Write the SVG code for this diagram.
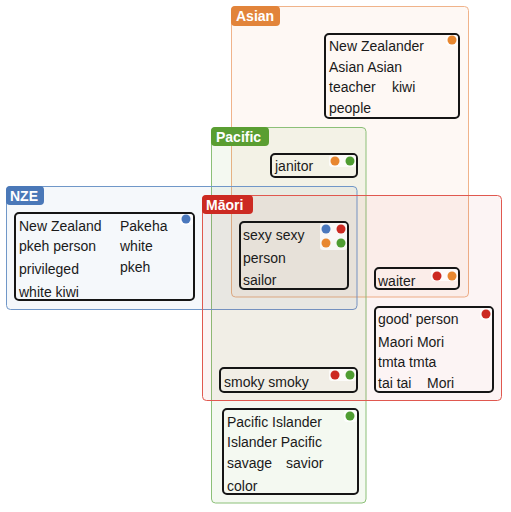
<svg xmlns="http://www.w3.org/2000/svg" width="511" height="512" viewBox="0 0 511 512">
<style>
.grp{stroke-width:1}
.lbl{font-family:"Liberation Sans",Arial,sans-serif;font-size:14px;font-weight:bold;fill:#fff}
.node{fill:none;stroke:#151515;stroke-width:2}
.t{font-family:"Liberation Sans",Arial,sans-serif;font-size:14px;fill:#1a1a1a}
.patch{fill:#fff;fill-opacity:0.75}
.cb{fill:#4a78bd}.cr{fill:#cc2a22}.co{fill:#e8872f}.cg{fill:#4f9d32}
</style>
<rect width="511" height="512" fill="#fff"/>
<g id="group-asian">
<rect class="grp" x="231.5" y="6.5" width="237" height="290.5" rx="4" fill="#e8873a" fill-opacity="0.055" stroke="#f0b38a"/>
</g>
<g id="group-pacific">
<rect class="grp" x="211.5" y="127.5" width="154.5" height="375.5" rx="4" fill="#5a9e32" fill-opacity="0.065" stroke="#8cc078"/>
</g>
<g id="group-nze">
<rect class="grp" x="6.5" y="186.5" width="350.5" height="123" rx="4" fill="#4a78b8" fill-opacity="0.055" stroke="#7097c8"/>
</g>
<g id="group-maori">
<rect class="grp" x="202.5" y="195.5" width="299" height="205" rx="4" fill="#cc2a22" fill-opacity="0.05" stroke="#e0584f"/>
</g>
<g id="labels">
<g id="label-asian"><rect x="231" y="6" width="49" height="20" rx="4" fill="#e2843a"/><text class="lbl" x="236" y="21">Asian</text></g>
<g id="label-pacific"><rect x="211" y="127" width="58" height="19" rx="4" fill="#5a9e32"/><text class="lbl" x="216" y="142">Pacific</text></g>
<g id="label-nze"><rect x="6" y="186" width="38" height="19" rx="4" fill="#4a78b8"/><text class="lbl" x="10" y="201">NZE</text></g>
<g id="label-maori"><rect x="202" y="195" width="51" height="19" rx="4" fill="#cc2a22"/><text class="lbl" x="206" y="210">Māori</text></g>
</g>
<g id="connectors"></g>
<g id="node-asian">
<rect class="node" x="325" y="34" width="134" height="84" rx="4"/>
<rect class="patch" x="446" y="35" width="12" height="11" rx="3"/>
<circle class="co" cx="452" cy="40" r="4.5"/>
<text class="t" x="329" y="51">New Zealander</text>
<text class="t" x="329" y="72">Asian Asian</text>
<text class="t" x="329" y="92">teacher</text>
<text class="t" x="392" y="92">kiwi</text>
<text class="t" x="329" y="113">people</text>
</g>
<g id="node-janitor">
<rect class="node" x="271" y="154" width="86" height="23" rx="4"/>
<rect class="patch" x="329" y="155" width="27" height="12" rx="3"/>
<circle class="co" cx="335" cy="161" r="4.5"/>
<circle class="cg" cx="350" cy="161" r="4.5"/>
<text class="t" x="275" y="171">janitor</text>
</g>
<g id="node-nze">
<rect class="node" x="15" y="213" width="179" height="87" rx="4"/>
<rect class="patch" x="180" y="214" width="13" height="11" rx="3"/>
<circle class="cb" cx="186" cy="219" r="4.5"/>
<text class="t" x="19" y="231">New Zealand</text>
<text class="t" x="19" y="251">pkeh person</text>
<text class="t" x="19" y="274">privileged</text>
<text class="t" x="19" y="297">white kiwi</text>
<text class="t" x="120" y="231">Pakeha</text>
<text class="t" x="120" y="251">white</text>
<text class="t" x="120" y="272">pkeh</text>
</g>
<g id="node-center">
<rect class="node" x="240" y="222" width="108" height="67" rx="4"/>
<rect class="patch" x="320" y="223" width="27" height="27" rx="3"/>
<circle class="cb" cx="326" cy="229" r="4.5"/>
<circle class="cr" cx="341" cy="229" r="4.5"/>
<circle class="co" cx="326" cy="243" r="4.5"/>
<circle class="cg" cx="341" cy="243" r="4.5"/>
<text class="t" x="243" y="240">sexy sexy</text>
<text class="t" x="243" y="263">person</text>
<text class="t" x="243" y="285">sailor</text>
</g>
<g id="node-waiter">
<rect class="node" x="375" y="268" width="84" height="21" rx="4"/>
<rect class="patch" x="431" y="269" width="27" height="12" rx="3"/>
<circle class="cr" cx="437" cy="276" r="4.5"/>
<circle class="co" cx="452" cy="276" r="4.5"/>
<text class="t" x="378" y="286">waiter</text>
</g>
<g id="node-maori">
<rect class="node" x="375" y="307" width="118" height="85" rx="4"/>
<rect class="patch" x="480" y="308" width="12" height="12" rx="3"/>
<circle class="cr" cx="486" cy="314" r="4.5"/>
<text class="t" x="378" y="324">good' person</text>
<text class="t" x="378" y="347">Maori Mori</text>
<text class="t" x="378" y="367">tmta tmta</text>
<text class="t" x="378" y="388">tai tai</text>
<text class="t" x="427" y="388">Mori</text>
</g>
<g id="node-smoky">
<rect class="node" x="220" y="368" width="137" height="24" rx="4"/>
<rect class="patch" x="329" y="369" width="27" height="12" rx="3"/>
<circle class="cr" cx="335" cy="375" r="4.5"/>
<circle class="cg" cx="350" cy="375" r="4.5"/>
<text class="t" x="224" y="387">smoky smoky</text>
</g>
<g id="node-pacific">
<rect class="node" x="223" y="409" width="135" height="85" rx="4"/>
<rect class="patch" x="344" y="410" width="13" height="12" rx="3"/>
<circle class="cg" cx="350" cy="416" r="4.5"/>
<text class="t" x="227" y="427">Pacific Islander</text>
<text class="t" x="227" y="447">Islander Pacific</text>
<text class="t" x="227" y="468">savage</text>
<text class="t" x="286" y="468">savior</text>
<text class="t" x="227" y="491">color</text>
</g>
</svg>
